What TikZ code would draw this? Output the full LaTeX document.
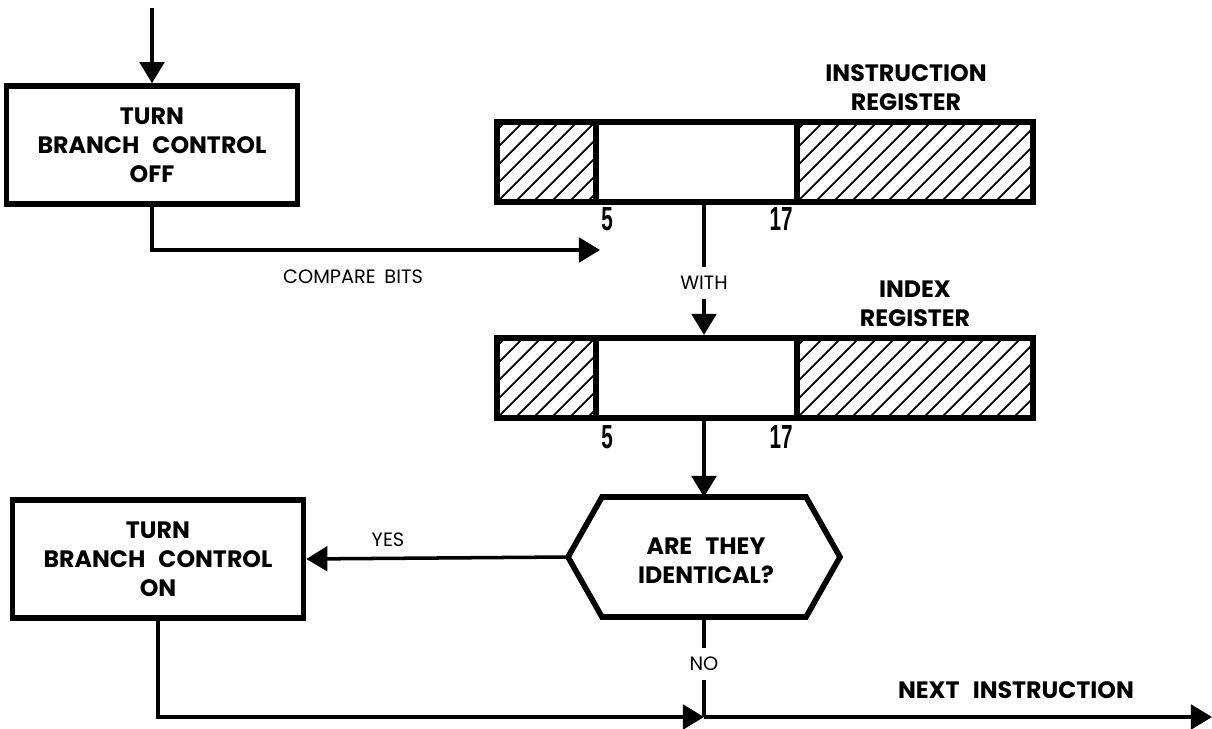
\documentclass[tikz,border=0pt]{standalone}
\usepackage{fontspec}
\setmainfont{Poppins}
\newfontfamily\numfont{Liberation Sans}
\usepackage{graphicx}
\usetikzlibrary{arrows.meta,calc}
\newcommand\widesp{\spaceskip=0.55em\relax}
\newcommand\tagsp{\spaceskip=0.45em\relax}

\begin{document}
\begin{tikzpicture}[x=0.02cm,y=-0.02cm,
  box/.style={draw,line width=3.2pt,minimum width=5.82cm,minimum height=2.36cm,align=center,font={\fontsize{13.5}{16.5}\selectfont\bfseries\widesp}},
  reg/.style={draw,line width=3.5pt,minimum height=1.6cm,inner sep=0pt},
  hatch/.style={path picture={\foreach \k in {-5,...,14} \draw[line width=1pt] ($(path picture bounding box.south west)+(\k*18,0)$) -- ++(100,-100);}},
  flow/.style={line width=2pt},
  arr/.style={flow,-{Triangle[length=12pt,width=14pt]}},
  tag/.style={inner sep=5pt,font={\fontsize{11}{12}\selectfont\tagsp}},
  head/.style={align=center,font={\fontsize{13.5}{16.5}\selectfont\bfseries\widesp}},
  bitno/.style={font=\numfont\bfseries\fontsize{19}{19}\selectfont}]

\useasboundingbox (0,0) rectangle (1212,729);

\node[box] (off) at (152,145) {TURN\\BRANCH CONTROL\\OFF};
\coordinate (entry) at (152,8);
\draw[arr] (entry) -- (off.north);

\coordinate (cmp) at (600,250);
\draw[arr] (off.south) |- (cmp);
\node[tag] (cmplbl) at (353,277) {COMPARE BITS};

\node[reg,hatch,minimum width=1.98cm] (irL) at (546.5,162) {};
\node[reg,minimum width=4.02cm] (irM) at (696.5,162) {};
\node[reg,hatch,minimum width=4.72cm] (irR) at (915,162) {};
\node[head] (irlbl) at (906,88) {INSTRUCTION\\REGISTER};
\node[bitno] (ir5) at (607,219) {\scalebox{0.62}[1]{5}};
\node[bitno] (ir17) at (781,219) {\scalebox{0.62}[1]{17}};

\node[reg,hatch,minimum width=1.98cm] (ixL) at (546.5,378) {};
\node[reg,minimum width=4.02cm] (ixM) at (696.5,378) {};
\node[reg,hatch,minimum width=4.72cm] (ixR) at (915,378) {};
\node[head] (ixlbl) at (915,304) {INDEX\\REGISTER};
\node[bitno] (ix5) at (607,437) {\scalebox{0.62}[1]{5}};
\node[bitno] (ix17) at (781,437) {\scalebox{0.62}[1]{17}};

\node[tag] (with) at (704,283) {WITH};
\draw[flow] (irM.south -| with) -- (with.north);
\draw[arr] (with.south) -- (ixM.north -| with);

\coordinate (hex) at (704,557);
\coordinate (hexN) at ($(hex)+(0,-60)$);
\coordinate (hexS) at ($(hex)+(0,60)$);
\coordinate (hexW) at ($(hex)+(-136,0)$);
\draw[line width=3.2pt] (hexW) -- ($(hex)+(-102,-60)$) -- ($(hex)+(102,-60)$) -- ($(hex)+(136,0)$) -- ($(hex)+(102,60)$) -- ($(hex)+(-102,60)$) -- cycle;
\node[head] (same) at (706,561) {ARE THEY\\IDENTICAL?};
\draw[arr] (ixM.south -| hexN) -- (hexN);

\node[box] (on) at (158,559) {TURN\\BRANCH CONTROL\\ON};
\draw[arr] (hexW) -- (on.east);
\node[tag] (yes) at (388,540) {YES};

\node[tag] (no) at (704,664) {NO};
\coordinate (join) at (704,717);
\coordinate (exit) at (1212,717);
\draw[flow] (hexS) -- (no.north);
\draw[flow] (no.south) -- (join);
\draw[arr] (on.south) |- (join);
\draw[arr] (join) -- (exit);
\node[head] (nextlbl) at (1016,690) {NEXT INSTRUCTION};

\end{tikzpicture}
\end{document}
